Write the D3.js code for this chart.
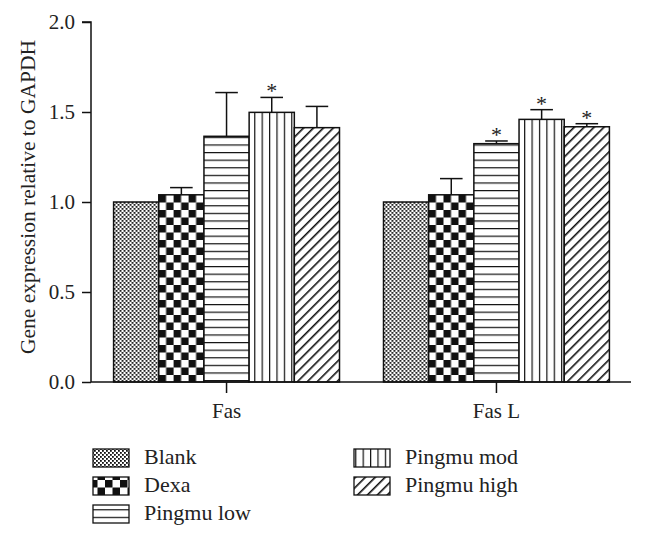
<!DOCTYPE html>
<html>
<head>
<meta charset="utf-8">
<script src="https://cdn.jsdelivr.net/npm/d3@7"></script>
<style>
  html, body { margin: 0; padding: 0; background: #fff; }
  svg { display: block; }
  text { font-family: "Liberation Serif", "DejaVu Serif", serif; fill: #222; }
</style>
</head>
<body>
<svg id="chart" width="646" height="539"></svg>
<script>
// ---- data ----
const groups = ["Fas", "Fas L"];
const series = ["Blank", "Dexa", "Pingmu low", "Pingmu mod", "Pingmu high"];
const fasMeans = [1.0, 1.04, 1.365, 1.498, 1.413];
const fasErr = [0, 0.04, 0.243, 0.083, 0.118];
const fasSig = [false, false, false, true, false];
const faslMeans = [1.0, 1.04, 1.324, 1.459, 1.418];
const faslErr = [0, 0.09, 0.015, 0.054, 0.017];
const faslSig = [false, false, true, true, true];
const yTicks = [0.0, 0.5, 1.0, 1.5, 2.0];
const yTitle = "Gene expression relative to GAPDH";

const patternIds = ["p-blank", "p-dexa", "p-low", "p-mod", "p-high"];

const table = [
  { group: groups[0], means: fasMeans, errs: fasErr, sig: fasSig },
  { group: groups[1], means: faslMeans, errs: faslErr, sig: faslSig }
];

const svg = d3.select("#chart");
const defs = svg.append("defs");

// fine checkerboard
{
  const p = defs.append("pattern").attr("id", "p-blank").attr("patternUnits", "userSpaceOnUse")
    .attr("width", 4).attr("height", 4);
  p.append("rect").attr("width", 4).attr("height", 4).attr("fill", "#fff");
  p.append("rect").attr("width", 1.8).attr("height", 1.8).attr("fill", "#111");
  p.append("rect").attr("x", 2).attr("y", 2).attr("width", 1.8).attr("height", 1.8).attr("fill", "#111");
}
// coarse checkerboard
{
  const s = 7.5;
  const p = defs.append("pattern").attr("id", "p-dexa").attr("patternUnits", "userSpaceOnUse")
    .attr("width", 2 * s).attr("height", 2 * s);
  p.append("rect").attr("width", 2 * s).attr("height", 2 * s).attr("fill", "#fff");
  p.append("rect").attr("width", s).attr("height", s).attr("fill", "#111");
  p.append("rect").attr("x", s).attr("y", s).attr("width", s).attr("height", s).attr("fill", "#111");
}
// horizontal lines
{
  const p = defs.append("pattern").attr("id", "p-low").attr("patternUnits", "userSpaceOnUse")
    .attr("width", 10).attr("height", 7.6);
  p.append("rect").attr("width", 10).attr("height", 7.6).attr("fill", "#fff");
  p.append("rect").attr("y", 0).attr("width", 10).attr("height", 1.2).attr("fill", "#111");
}
// vertical lines
{
  const p = defs.append("pattern").attr("id", "p-mod").attr("patternUnits", "userSpaceOnUse")
    .attr("width", 7.4).attr("height", 10);
  p.append("rect").attr("width", 7.4).attr("height", 10).attr("fill", "#fff");
  p.append("rect").attr("x", 0).attr("width", 1.2).attr("height", 10).attr("fill", "#111");
}
// diagonal lines
{
  const p = defs.append("pattern").attr("id", "p-high").attr("patternUnits", "userSpaceOnUse")
    .attr("width", 7).attr("height", 7).attr("patternTransform", "rotate(45)");
  p.append("rect").attr("width", 7).attr("height", 7).attr("fill", "#fff");
  p.append("rect").attr("x", 0).attr("width", 1.6).attr("height", 7).attr("fill", "#111");
}

// ---- scales ----
const y = d3.scaleLinear().domain([0, 2]).range([382, 22]);
const x0 = d3.scaleBand().domain(groups).range([92, 631]).paddingInner(0.163).paddingOuter(0.08);
const x1 = d3.scaleBand().domain(series).range([0, x0.bandwidth()]);

// ---- bars ----
const g = svg.append("g");
table.forEach(row => {
  const gg = g.append("g").attr("transform", `translate(${x0(row.group)},0)`);
  series.forEach((s, i) => {
    const bx = x1(s), bw = x1.bandwidth();
    const top = y(row.means[i]);
    gg.append("rect")
      .attr("x", bx).attr("y", top)
      .attr("width", bw).attr("height", y(0) - top)
      .attr("fill", `url(#${patternIds[i]})`)
      .attr("stroke", "#111").attr("stroke-width", 1.5);
    const cx = bx + bw / 2;
    let markTop = top;
    if (row.errs[i] > 0) {
      const et = y(row.means[i] + row.errs[i]);
      gg.append("line").attr("x1", cx).attr("x2", cx).attr("y1", top).attr("y2", et)
        .attr("stroke", "#111").attr("stroke-width", 1.5);
      gg.append("line").attr("x1", cx - bw / 4).attr("x2", cx + bw / 4).attr("y1", et).attr("y2", et)
        .attr("stroke", "#111").attr("stroke-width", 1.5);
      markTop = et;
    }
    if (row.sig[i]) {
      gg.append("text").attr("x", cx).attr("y", markTop + 1)
        .attr("text-anchor", "middle").attr("font-size", 22).text("*");
    }
  });
});

// ---- axes ----
const yAxis = d3.axisLeft(y).tickValues(yTicks).tickFormat(d3.format(".1f")).tickSize(9).tickPadding(7);
const ya = svg.append("g").attr("transform", "translate(91,0)").call(yAxis);
ya.select(".domain").attr("stroke", "#111").attr("stroke-width", 1.5).attr("d", `M-9,${y(2)}H0V${y(0)}`);
ya.selectAll(".tick line").attr("stroke", "#111").attr("stroke-width", 1.5);
ya.selectAll(".tick text").attr("font-size", 21).attr("font-family", "Liberation Serif").attr("fill", "#222");

const xAxis = d3.axisBottom(x0).tickSize(11).tickPadding(10);
const xa = svg.append("g").attr("transform", `translate(0,${y(0)})`).call(xAxis);
xa.select(".domain").attr("stroke", "#111").attr("stroke-width", 1.5).attr("d", "M91,0H631");
xa.selectAll(".tick line").attr("stroke", "#111").attr("stroke-width", 1.5);
xa.selectAll(".tick text").attr("font-size", 21).attr("font-family", "Liberation Serif").attr("fill", "#222");

svg.append("text")
  .attr("transform", "translate(35,197) rotate(-90)")
  .attr("text-anchor", "middle").attr("font-size", 21.5).text(yTitle);

// ---- legend ----
const legendPos = [
  { x: 93, y: 449 }, { x: 93, y: 477 }, { x: 93, y: 505 },
  { x: 354, y: 449 }, { x: 354, y: 477 }
];
series.forEach((s, i) => {
  const p = legendPos[i];
  svg.append("rect").attr("x", p.x).attr("y", p.y).attr("width", 36).attr("height", 18)
    .attr("fill", `url(#${patternIds[i]})`).attr("stroke", "#111").attr("stroke-width", 1.3);
  svg.append("text").attr("x", p.x + 51).attr("y", p.y + 15).attr("font-size", 22).text(s);
});
</script>
</body>
</html>
